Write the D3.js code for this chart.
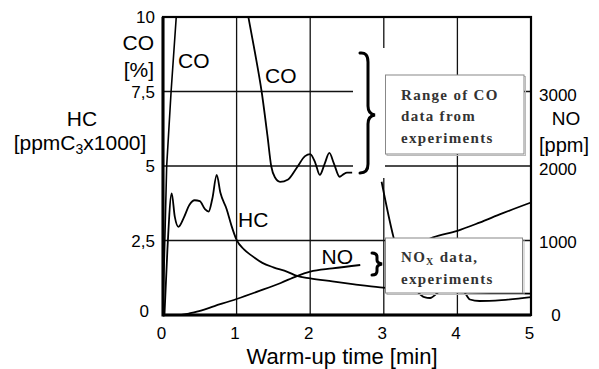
<!DOCTYPE html>
<html><head><meta charset="utf-8">
<script src="https://cdn.jsdelivr.net/npm/d3@7"></script>
<style>body{margin:0;background:#fff}svg{display:block}</style>
</head><body>
<svg id="c" width="599" height="369"></svg>
<script>
// ---- data ----
const xTicks = [0, 1, 2, 3, 4, 5];
const yTicksLeft = [0, 2.5, 5, 7.5, 10];
const yTicksRight = [0, 1000, 2000, 3000];
// CO [%] during warm-up (first rise, second fall with oscillation, third after restart)
const co1 = [[0.0, 0.3], [0.03, 3], [0.05, 5], [0.11, 7.5], [0.18, 10]];
const co2 = [[1.16, 10], [1.25, 8.8], [1.34, 7.5], [1.42, 6], [1.47, 5], [1.52, 4.62], [1.59, 4.47], [1.7, 4.55],
  [1.82, 4.95], [1.93, 5.33], [2.0, 5.4], [2.07, 5.1], [2.13, 4.7], [2.2, 5.1], [2.26, 5.44], [2.32, 5.1],
  [2.4, 4.64], [2.45, 4.72], [2.5, 4.78], [2.57, 4.78]];
const co3 = [[2.97, 4.47], [3.13, 2.63], [3.3, 1.3], [3.45, 0.8], [3.55, 0.6], [3.63, 0.57], [3.72, 0.72],
  [3.85, 1.0], [4.0, 1.0], [4.1, 0.75], [4.17, 0.52], [4.3, 0.47], [4.6, 0.5], [5.0, 0.6]];
// HC [ppmC3 x1000]
const hc = [[0.02, 0], [0.06, 2.2], [0.118, 4.08], [0.16, 3.3], [0.21, 2.96], [0.28, 3.25], [0.36, 3.7],
  [0.43, 3.85], [0.5, 3.82], [0.57, 3.55], [0.62, 3.47], [0.67, 3.9], [0.73, 4.7], [0.78, 4.1], [0.865, 3.55],
  [0.93, 3.0], [1.0, 2.52], [1.1, 2.2], [1.2, 2.0], [1.35, 1.75], [1.5, 1.6], [1.69, 1.45], [1.82, 1.31],
  [2.0, 1.23], [2.3, 1.13], [2.6, 1.03], [2.95, 0.93], [3.3, 0.88], [3.7, 0.8], [4.2, 0.75], [4.6, 0.73], [5.0, 0.72]];
// NO [ppm]
const no1 = [[0.25, 0], [0.35, 20], [0.46, 44], [0.7, 120], [1.0, 215], [1.3, 320], [1.6, 430], [1.82, 523],
  [2.0, 581], [2.3, 625], [2.68, 671]];
const no2 = [[3.1, 700], [3.3, 850], [3.5, 970], [3.67, 1043], [4.0, 1130], [4.3, 1240], [4.6, 1360], [5.0, 1510]];
const boxText1 = ["Range of CO", "data from", "experiments"];
const boxText2 = ["data,", "experiments"];

// ---- drawing ----
const svg = d3.select("#c");
const x = d3.scaleLinear([0, 5], [163, 531]);
const y = d3.scaleLinear([0, 10], [315, 17]);
const yR = d3.scaleLinear([0, 4000], [315, 17]);
const sans = "'Liberation Sans', Arial, sans-serif";
const serif = "'Liberation Serif', 'Times New Roman', serif";

// grid
const g = svg.append("g");
g.selectAll(".gx").data(xTicks.slice(1, -1)).join("line")
  .attr("x1", d => x(d)).attr("x2", d => x(d)).attr("y1", y(0)).attr("y2", y(10))
  .attr("stroke", "#111").attr("stroke-width", 1.3);
g.selectAll(".gy").data(yTicksLeft.slice(1, -1)).join("line")
  .attr("x1", x(0)).attr("x2", x(5)).attr("y1", d => y(d)).attr("y2", d => y(d))
  .attr("stroke", "#111").attr("stroke-width", 1.3);
// gap in grid around the bracket
svg.append("rect").attr("x", 353).attr("y", 48).attr("width", 32).attr("height", 130).attr("fill", "#fff");

// curves
const lineL = d3.line().x(d => x(d[0])).y(d => y(d[1])).curve(d3.curveMonotoneX);
const lineLin = d3.line().x(d => x(d[0])).y(d => y(d[1]));
const lineR = d3.line().x(d => x(d[0])).y(d => yR(d[1])).curve(d3.curveMonotoneX);
const curves = svg.append("g").attr("fill", "none").attr("stroke", "#000").attr("stroke-width", 1.8)
  .attr("stroke-linejoin", "round");
curves.append("path").attr("d", lineLin(co1)).attr("stroke-width", 1.6);
curves.append("path").attr("d", lineL(co2));
curves.append("path").attr("d", lineL(co3));
curves.append("path").attr("d", lineL(hc));
curves.append("path").attr("d", lineR(no1));
curves.append("path").attr("d", lineR(no2));

// frame
svg.append("rect").attr("x", x(0)).attr("y", y(10)).attr("width", x(5) - x(0)).attr("height", y(0) - y(10))
  .attr("fill", "none").attr("stroke", "#000").attr("stroke-width", 2.2);
svg.append("line").attr("x1", x(0)).attr("x2", x(0)).attr("y1", y(10)).attr("y2", y(0) + 1.5)
  .attr("stroke", "#000").attr("stroke-width", 3);
svg.append("line").attr("x1", x(0)).attr("x2", x(5)).attr("y1", y(0)).attr("y2", y(0))
  .attr("stroke", "#000").attr("stroke-width", 3);

// boxes
function box(x0, y0, w, h) {
  svg.append("rect").attr("x", x0 + 1.5).attr("y", y0 + 1.5).attr("width", w).attr("height", h)
    .attr("fill", "none").attr("stroke", "#bbb").attr("stroke-width", 1);
  svg.append("rect").attr("x", x0).attr("y", y0).attr("width", w).attr("height", h)
    .attr("fill", "#fff").attr("stroke", "#888").attr("stroke-width", 1);
}
box(385.5, 75, 138.5, 79);
box(385.5, 238, 137, 55);
const bt = svg.append("g").attr("font-family", serif).attr("font-weight", "bold").attr("font-size", 15)
  .attr("fill", "#333").attr("letter-spacing", 1.3);
bt.selectAll("text").data(boxText1).join("text")
  .attr("x", 401).attr("y", (d, i) => 99.5 + i * 21.5).text(d => d);
const t2 = bt.append("text").attr("x", 401).attr("y", 262);
t2.append("tspan").text("NO");
t2.append("tspan").attr("font-size", 10).attr("dy", 3).text("X");
t2.append("tspan").attr("dy", -3).text(" " + boxText2[0]);
bt.append("text").attr("x", 401).attr("y", 284).text(boxText2[1]);

// brackets
svg.append("path").attr("fill", "none").attr("stroke", "#000").attr("stroke-width", 3).attr("stroke-linecap", "round")
  .attr("d", "M360,53 Q368,52 368,62 L368,106 Q368,114 375,115 Q368,116 368,124 L368,164 Q368,173 360,173");
svg.append("path").attr("fill", "none").attr("stroke", "#000").attr("stroke-width", 3).attr("stroke-linecap", "round")
  .attr("d", "M372,253 Q377,253 377,257 L377,260 Q377,263 382,264 Q377,265 377,268 L377,271 Q377,275 372,275");

// tick labels
const tl = svg.append("g").attr("font-family", sans).attr("font-size", 17).attr("fill", "#000");
tl.selectAll(".xl").data(xTicks).join("text")
  .attr("x", d => x(d) - 1.5).attr("y", 339).attr("text-anchor", "middle").text(d => d);
tl.selectAll(".yl").data(yTicksLeft).join("text")
  .attr("x", d => d === 0 ? 149 : 155).attr("y", d => (d === 0 ? y(d) - 4 : y(d)) + 6).attr("text-anchor", "end")
  .text(d => String(d).replace(".", ","));
tl.selectAll(".yr").data(yTicksRight).join("text")
  .attr("x", d => d === 0 ? 556 : 539).attr("y", d => yR(d) + (d === 0 ? 6 : d >= 2000 ? 9 : 7))
  .attr("text-anchor", d => d === 0 ? "middle" : "start").text(d => d);

// axis and series labels
const lab = svg.append("g").attr("font-family", sans).attr("font-size", 21).attr("fill", "#000");
lab.append("text").attr("x", 154).attr("y", 49.5).attr("text-anchor", "end").text("CO");
lab.append("text").attr("x", 154).attr("y", 77).attr("text-anchor", "end").text("[%]");
lab.append("text").attr("x", 82).attr("y", 125.5).attr("text-anchor", "middle").text("HC");
const hcU = lab.append("text").attr("x", 80).attr("y", 150).attr("text-anchor", "middle");
hcU.append("tspan").text("[ppmC");
hcU.append("tspan").attr("font-size", 14).attr("dy", 4).text("3");
hcU.append("tspan").attr("dy", -4).text("x1000]");
lab.append("text").attr("x", 566).attr("y", 124.5).attr("text-anchor", "middle").attr("font-size", 19).text("NO");
lab.append("text").attr("x", 539).attr("y", 152).attr("font-size", 20).text("[ppm]");
lab.append("text").attr("x", 178).attr("y", 67.5).text("CO");
lab.append("text").attr("x", 265).attr("y", 82.5).text("CO");
lab.append("text").attr("x", 238).attr("y", 226.5).text("HC");
lab.append("text").attr("x", 321.5).attr("y", 264).text("NO");
lab.append("text").attr("x", 342).attr("y", 364).attr("text-anchor", "middle").attr("font-size", 22)
  .text("Warm-up time [min]");
</script>
</body></html>
